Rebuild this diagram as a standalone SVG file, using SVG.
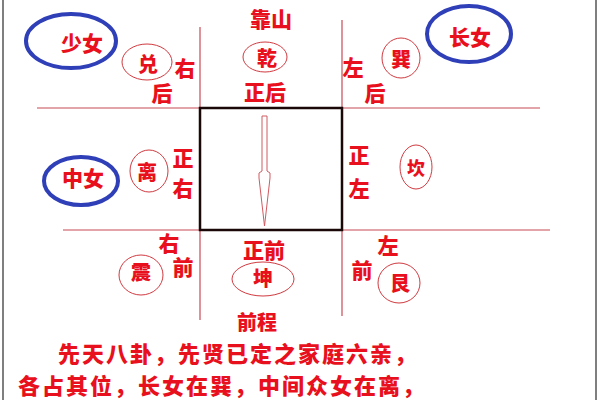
<svg xmlns="http://www.w3.org/2000/svg" width="600" height="400" viewBox="0 0 600 400">
<style>
  text { font-family: "Noto Sans CJK SC", "Noto Sans", sans-serif; font-weight: 900; fill: #e8101c; text-anchor: middle; }
  .lbl { font-size: 21px; }
  .in { font-size: 20px; }
  .big { font-size: 22px; letter-spacing: 2px; text-anchor: start; }
  .ring { fill: none; stroke: #d03a40; stroke-width: 1; }
  .blue { fill: none; stroke: #2f3fb8; stroke-width: 4; }
  .ln { stroke: #c84a55; stroke-width: 1.2; fill: none; }
</style>
<rect x="0" y="0" width="600" height="400" fill="#ffffff"/>
<line x1="3" y1="0" x2="3" y2="400" stroke="#555" stroke-width="1.5"/>
<line x1="596" y1="0" x2="596" y2="400" stroke="#555" stroke-width="1.5"/>

<g id="connectors">
  <line class="ln" x1="37" y1="108" x2="540" y2="108"/>
  <line class="ln" x1="63" y1="230" x2="550" y2="230"/>
  <line class="ln" x1="200" y1="27" x2="200" y2="320"/>
  <line class="ln" x1="342" y1="20" x2="342" y2="316"/>
</g>

<g id="center">
  <rect x="200" y="108" width="142" height="122" fill="none" stroke="#1a0808" stroke-width="2.5"/>
  <path d="M262,116 L267,116 L267,171 L270,173 L270,178 L264.5,226 L259,178 L259,173 L262,171 Z" fill="#fff" stroke="#d05a60" stroke-width="1"/>
</g>

<g id="top">
  <text class="lbl" x="271" y="27">靠山</text>
  <ellipse class="ring" cx="265" cy="57" rx="22" ry="15"/>
  <text class="in" x="267" y="66">乾</text>
  <text class="lbl" x="265" y="100">正后</text>
</g>

<g id="top-left">
  <ellipse class="blue" cx="71" cy="41" rx="45" ry="27"/>
  <text class="lbl" x="82" y="51">少女</text>
  <ellipse class="ring" cx="147" cy="62" rx="25" ry="18"/>
  <text class="in" x="148" y="72">兑</text>
  <text class="lbl" x="185" y="76">右</text>
  <text class="lbl" x="162" y="101">后</text>
</g>

<g id="top-right">
  <text class="lbl" x="353" y="75">左</text>
  <text class="lbl" x="375" y="101">后</text>
  <ellipse class="ring" cx="401" cy="58" rx="19" ry="20"/>
  <text class="in" x="401" y="67">巽</text>
  <ellipse class="blue" cx="469" cy="34" rx="42" ry="28"/>
  <text class="lbl" x="470" y="45">长女</text>
</g>

<g id="left">
  <ellipse class="blue" cx="81" cy="181" rx="37" ry="24"/>
  <text class="lbl" x="83" y="186">中女</text>
  <ellipse class="ring" cx="149" cy="171" rx="19" ry="21"/>
  <text class="in" x="147" y="180">离</text>
  <text class="lbl" x="183" y="166">正</text>
  <text class="lbl" x="183" y="196">右</text>
</g>

<g id="right">
  <text class="lbl" x="359" y="163">正</text>
  <text class="lbl" x="359" y="196">左</text>
  <ellipse class="ring" cx="416" cy="167" rx="16" ry="22"/>
  <text class="in" x="416" y="175" style="font-size:18px">坎</text>
</g>

<g id="bottom-left">
  <text class="lbl" x="169" y="251">右</text>
  <text class="lbl" x="183" y="275">前</text>
  <ellipse class="ring" cx="141" cy="275" rx="22" ry="20"/>
  <text class="in" x="141" y="280">震</text>
</g>

<g id="bottom">
  <text class="lbl" x="264" y="258">正前</text>
  <ellipse class="ring" cx="263" cy="279" rx="31" ry="17"/>
  <text class="in" x="263" y="286">坤</text>
  <text class="lbl" x="257" y="330" style="font-size:20px">前程</text>
</g>

<g id="bottom-right">
  <text class="lbl" x="388" y="253">左</text>
  <text class="lbl" x="362" y="278">前</text>
  <ellipse class="ring" cx="399" cy="283" rx="21" ry="20"/>
  <text class="in" x="400" y="291">艮</text>
</g>

<g id="caption">
  <text class="big" x="58" y="361.5">先天八卦，先贤已定之家庭六亲，</text>
  <text class="big" x="18" y="393.5">各占其位，长女在巽，中间众女在离，</text>
</g>
</svg>
